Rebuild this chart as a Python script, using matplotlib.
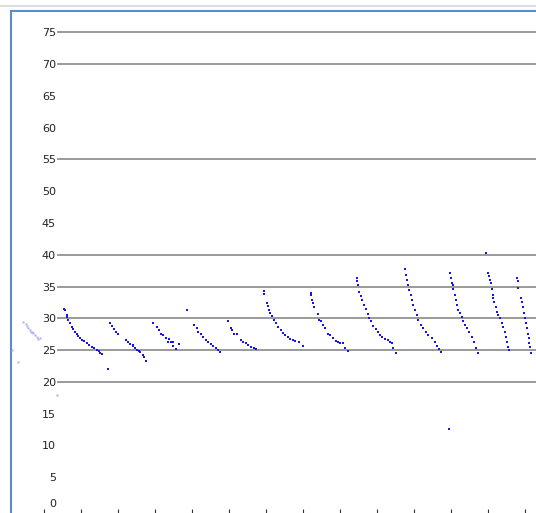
import matplotlib
matplotlib.use("Agg")
import matplotlib.pyplot as plt
from matplotlib.lines import Line2D

plt.rcParams['font.family'] = ['DejaVu Sans']
plt.rcParams['axes.grid'] = False

# y axis labels and the levels that carry a grid line
y_ticks = [0, 5, 10, 15, 20, 25, 30, 35, 40, 45, 50, 55, 60, 65, 70, 75]
grid_levels = [20, 25, 30, 35, 40, 55, 70, 75]
x_ticks = list(range(0, 14))

# faint (older) readings at the far left
faint_x = [-0.57, -0.49, -0.46, -0.42, -0.39, -0.36, -0.32, -0.29, -0.24, -0.20,
           -0.15, -0.11, -0.87, -0.69, 0.34]
faint_y = [29.4, 29.1, 28.8, 28.5, 28.2, 27.9, 27.8, 27.7, 27.4, 27.1,
           26.8, 26.9, 25.0, 23.2, 17.9]

# decaying runs
seg01_x = [0.54, 0.57, 0.61, 0.62, 0.66, 0.70, 0.75, 0.78, 0.84, 0.89, 0.93, 0.97,
           1.02, 1.08, 1.15, 1.22, 1.29, 1.35, 1.42, 1.49, 1.51, 1.57]
seg01_y = [31.5, 31.3, 30.5, 30.2, 29.7, 29.3, 28.7, 28.3, 27.9, 27.5, 27.2, 26.9,
           26.6, 26.4, 26.1, 25.8, 25.5, 25.3, 25.0, 24.9, 24.5, 24.4]

seg02_x = [1.78, 1.83, 1.89, 1.94, 1.99, 2.22, 2.26, 2.32, 2.40, 2.41, 2.46, 2.52,
           2.57, 2.59, 2.67, 2.71, 2.76]
seg02_y = [29.2, 28.8, 28.3, 27.9, 27.5, 26.6, 26.2, 25.9, 25.8, 25.6, 25.3, 25.0,
           24.9, 24.7, 24.2, 23.9, 23.3]

seg03_x = [2.95, 3.06, 3.11, 3.15, 3.21, 3.29, 3.39, 3.36, 3.43, 3.49, 3.49, 3.66, 3.57]
seg03_y = [29.2, 28.6, 28.2, 27.6, 27.4, 26.9, 26.7, 26.2, 26.2, 26.2, 25.6, 25.9, 25.2]

seg04_x = [4.06, 4.13, 4.17, 4.24, 4.31, 4.38, 4.44, 4.51, 4.57, 4.64, 4.71, 4.76]
seg04_y = [28.9, 28.4, 27.8, 27.5, 27.0, 26.6, 26.2, 25.9, 25.6, 25.3, 25.0, 24.7]

seg05_x = [4.96, 5.05, 5.07, 5.14, 5.22, 5.32, 5.39, 5.46, 5.52, 5.59, 5.68, 5.73]
seg05_y = [29.5, 28.5, 28.2, 27.6, 27.5, 26.6, 26.3, 26.1, 25.8, 25.5, 25.3, 25.2]

seg06_x = [5.95, 5.95, 6.02, 6.05, 6.08, 6.11, 6.17, 6.22, 6.27, 6.33, 6.40, 6.45,
           6.51, 6.59, 6.65, 6.72, 6.78, 6.90, 6.99]
seg06_y = [34.3, 33.8, 32.4, 31.9, 31.3, 30.8, 30.3, 29.8, 29.2, 28.7, 28.2, 27.7,
           27.4, 27.1, 26.7, 26.6, 26.5, 26.2, 25.6]

seg07_x = [7.21, 7.22, 7.25, 7.28, 7.31, 7.40, 7.44, 7.49, 7.53, 7.59, 7.68, 7.73,
           7.82, 7.89, 7.95, 8.00, 8.09, 8.14, 8.21]
seg07_y = [34.0, 33.6, 32.9, 32.4, 31.8, 30.7, 29.8, 29.5, 28.9, 28.4, 27.6, 27.4,
           26.9, 26.5, 26.3, 26.1, 26.1, 25.3, 24.9]

seg08_x = [8.45, 8.45, 8.48, 8.52, 8.56, 8.60, 8.65, 8.70, 8.75, 8.79, 8.84, 8.90,
           8.96, 9.02, 9.08, 9.14, 9.22, 9.29, 9.35, 9.41, 9.44, 9.51]
seg08_y = [36.3, 35.9, 35.2, 34.2, 33.5, 32.9, 32.1, 31.4, 30.7, 30.0, 29.5, 28.8,
           28.3, 27.9, 27.4, 27.0, 26.7, 26.6, 26.3, 26.1, 25.4, 24.6]

seg09_x = [9.76, 9.78, 9.80, 9.85, 9.87, 9.91, 9.94, 9.98, 10.03, 10.07, 10.12, 10.18,
           10.25, 10.32, 10.39, 10.48, 10.57, 10.63, 10.68, 10.73]
seg09_y = [37.7, 36.8, 36.0, 35.2, 34.5, 33.7, 32.9, 32.1, 31.3, 30.5, 29.7, 28.9,
           28.4, 27.9, 27.4, 26.9, 26.3, 25.6, 25.1, 24.7]

seg10_x = [10.97, 11.00, 11.02, 11.05, 11.06, 11.11, 11.14, 11.17, 11.20, 11.24, 11.29,
           11.33, 11.38, 11.44, 11.49, 11.56, 11.62, 11.68, 11.72]
seg10_y = [37.1, 36.3, 35.5, 35.2, 34.6, 33.7, 32.9, 32.1, 31.3, 30.8, 30.2,
           29.5, 28.9, 28.4, 27.9, 27.1, 26.3, 25.4, 24.6]

seg11_x = [12.01, 12.03, 12.05, 12.08, 12.10, 12.13, 12.14, 12.17, 12.21, 12.24, 12.28,
           12.32, 12.37, 12.41, 12.46, 12.49, 12.52, 12.55, 12.57]
seg11_y = [37.2, 36.7, 36.1, 35.5, 34.6, 33.7, 33.2, 32.6, 31.8, 31.0, 30.5,
           30.0, 29.2, 28.6, 27.9, 27.1, 26.3, 25.5, 25.0]

seg12_x = [12.79, 12.80, 12.82, 12.88, 12.91, 12.94, 12.97, 13.00, 13.03, 13.06, 13.09,
           13.11, 13.12, 13.14, 13.16]
seg12_y = [36.3, 35.9, 34.7, 33.2, 32.6, 31.8, 30.8, 30.0, 29.2, 28.4, 27.6,
           26.9, 26.1, 25.5, 24.5]

# stray single readings
stray_x = [1.72, 3.87, 10.95, 11.95]
stray_y = [22.0, 31.3, 12.6, 40.3]

runs = [
    (seg01_x, seg01_y), (seg02_x, seg02_y), (seg03_x, seg03_y), (seg04_x, seg04_y),
    (seg05_x, seg05_y), (seg06_x, seg06_y), (seg07_x, seg07_y), (seg08_x, seg08_y),
    (seg09_x, seg09_y), (seg10_x, seg10_y), (seg11_x, seg11_y), (seg12_x, seg12_y),
    (stray_x, stray_y),
]

W, H = 536, 513
fig = plt.figure(figsize=(W / 100, H / 100), dpi=100)

# axes box: frame at pixel 11 (left/top), runs off the right and bottom edge
left_px, top_px, right_px = 11, 11, 560
ax = fig.add_axes([left_px / W, 0, (right_px - left_px) / W, (H - top_px) / H])
ax.set_xlim((left_px - 44) / 37, (right_px - 44) / 37)
ax.set_ylim(-(H - 509) / 6.356, (509 - top_px) / 6.356)
ax.grid(False)

frame_blue = '#5a8bca'
for side in ['right', 'bottom']:
    ax.spines[side].set_visible(False)
for side in ['left', 'top']:
    ax.spines[side].set_color(frame_blue)
    ax.spines[side].set_linewidth(1.5)
ax.spines['bottom'].set_position(('data', 0))

# grid lines only at some levels, starting just right of the labels
grid_start = (58 - left_px) / (right_px - left_px)
for g in grid_levels:
    ax.axhline(g, xmin=grid_start, xmax=1, color='#929292', lw=1.3, zorder=1)

ax.set_yticks(y_ticks)
ax.set_yticklabels([str(v) for v in y_ticks])
ax.tick_params(axis='y', length=0, pad=-32.4, labelsize=8, labelcolor='#222222')
for lab in ax.get_yticklabels():
    lab.set_horizontalalignment('right')
ax.get_yticklabels()[0].set_verticalalignment('bottom')

ax.set_xticks(x_ticks)
ax.tick_params(axis='x', direction='out', length=4, width=0.8, color='#333333',
               labelbottom=False)

ax.plot(faint_x, faint_y, linestyle='none', marker='s', markersize=1.4,
        markeredgewidth=0, color='#a9aef0', zorder=3)
for xs, ys in runs:
    ax.plot(xs, ys, linestyle='none', marker='s', markersize=2.0,
            markeredgewidth=0, color='#1515f0', zorder=3)

fig.add_artist(Line2D([0, 1], [1 - 6 / H, 1 - 6 / H], transform=fig.transFigure,
                      color='#dedede', lw=1.5))

fig.savefig('out.png', dpi=100)
